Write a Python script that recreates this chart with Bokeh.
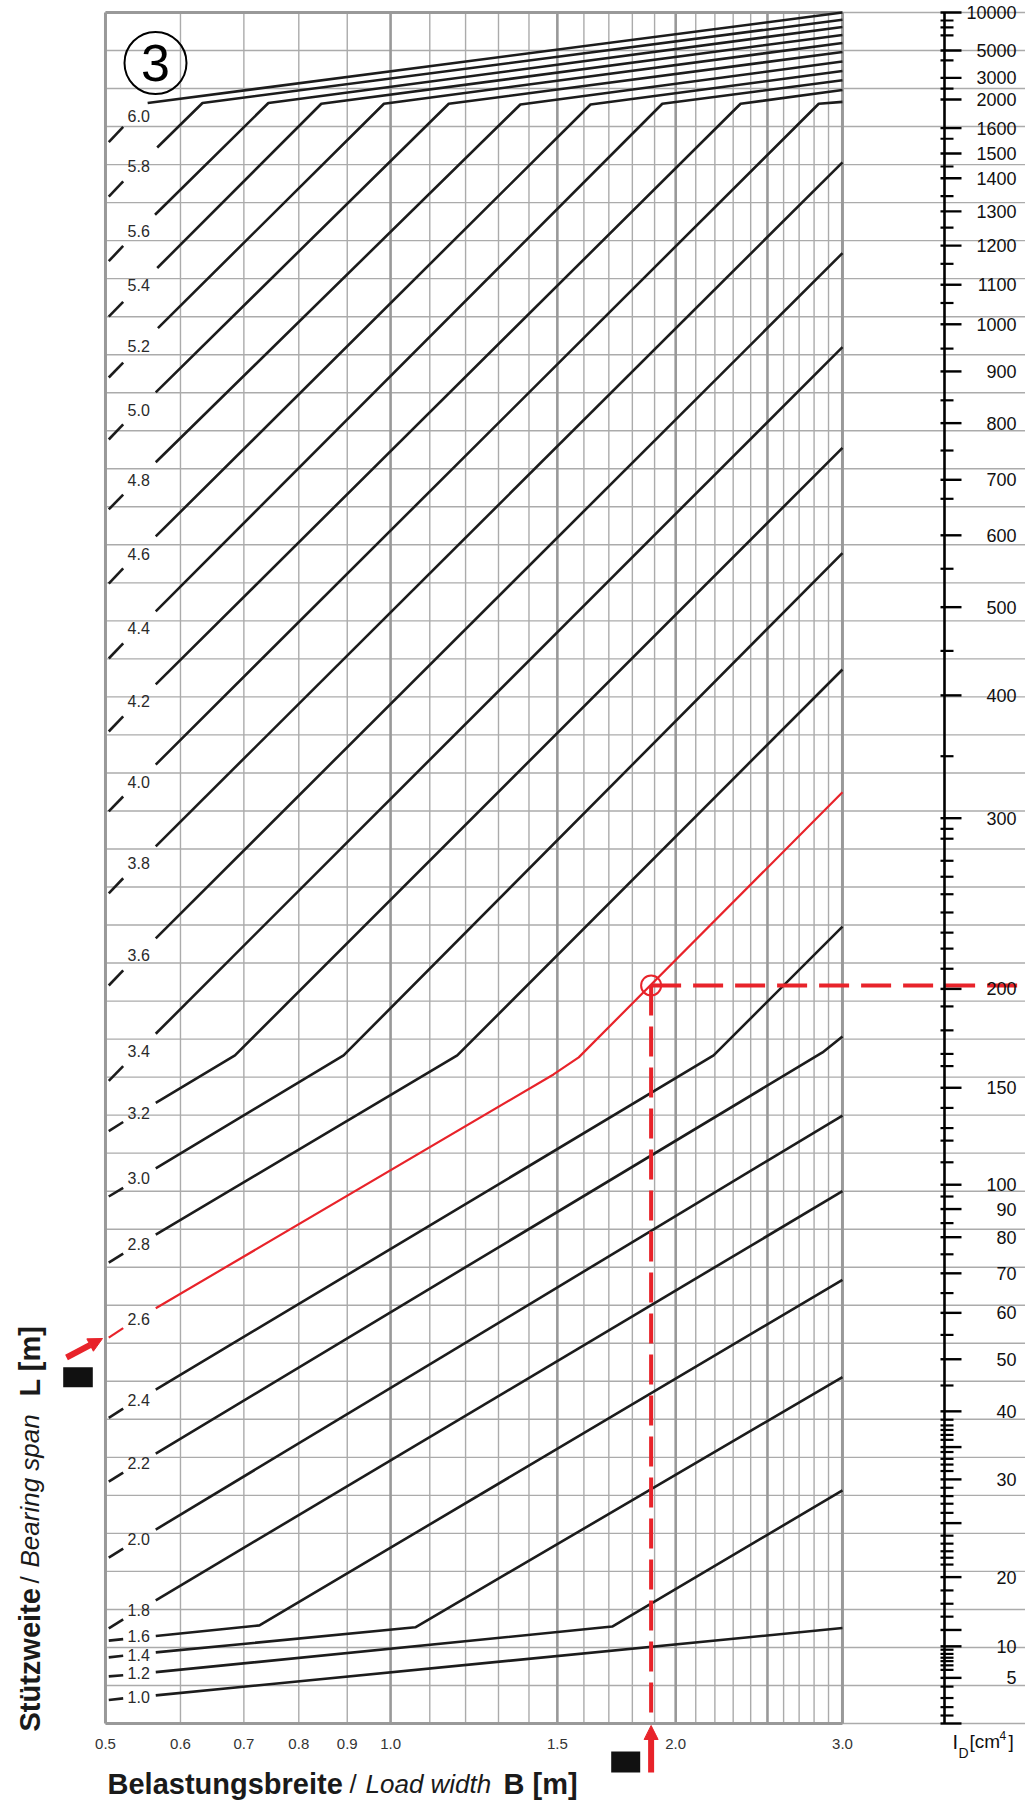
import numpy as np
from bokeh.plotting import figure
from bokeh.models import Range1d, Arrow, NormalHead, LinearScale
from bokeh.core.properties import value
from bokeh.embed import file_html
from bokeh.resources import INLINE

# ---------------------------------------------------------------- data
# Stützweite / bearing span L [m] of every curve (labels along the left edge)
L_VALUES = [6.0, 5.8, 5.6, 5.4, 5.2, 5.0, 4.8, 4.6, 4.4, 4.2, 4.0, 3.8, 3.6,
            3.4, 3.2, 3.0, 2.8, 2.6, 2.4, 2.2, 2.0, 1.8, 1.6, 1.4, 1.2, 1.0]
HIGHLIGHT_L = 2.6

# Curve vertices: load width B [m] and nomogram row (0 = bottom ... 45 = top)
CURVE_B = [
    [0.554, 3.0],                 # 6.0
    [0.567, 0.633, 3.0],          # 5.8
    [0.564, 0.743, 3.0],          # 5.6
    [0.567, 0.845, 3.0],          # 5.4
    [0.568, 0.984, 3.0],          # 5.2
    [0.565, 1.152, 3.0],          # 5.0
    [0.565, 1.371, 3.0],          # 4.8
    [0.565, 1.626, 3.0],          # 4.6
    [0.565, 1.936, 3.0],          # 4.4
    [0.565, 2.342, 3.0],          # 4.2
    [0.565, 2.832, 3.0],          # 4.0
    [0.565, 3.0],                 # 3.8
    [0.565, 3.0],                 # 3.6
    [0.565, 3.0],                 # 3.4
    [0.565, 0.685, 3.0],          # 3.2
    [0.565, 0.892, 3.0],          # 3.0
    [0.565, 1.176, 3.0],          # 2.8
    [0.565, 1.486, 1.580, 3.0],   # 2.6
    [0.565, 2.193, 3.0],          # 2.4
    [0.565, 2.858, 3.0],          # 2.2
    [0.565, 3.0],                 # 2.0
    [0.565, 3.0],                 # 1.8
    [0.565, 0.727, 3.0],          # 1.6
    [0.565, 1.062, 3.0],          # 1.4
    [0.565, 1.714, 3.0],          # 1.2
    [0.565, 3.0],                 # 1.0
]
CURVE_ROW = [
    [42.62, 45.00],
    [41.45, 42.62, 44.81],
    [39.68, 42.62, 44.62],
    [38.28, 42.60, 44.41],
    [36.70, 42.60, 44.20],
    [35.01, 42.60, 43.96],
    [33.17, 42.58, 43.71],
    [31.22, 42.58, 43.46],
    [29.25, 42.60, 43.22],
    [27.33, 42.60, 42.96],
    [25.22, 42.60, 42.65],
    [23.07, 41.06],
    [20.65, 38.67],
    [18.14, 36.20],
    [16.32, 17.57, 33.55],
    [14.60, 17.57, 30.78],
    [12.86, 17.57, 27.72],
    [10.92, 17.07, 17.52, 24.49],
    [8.78, 17.57, 20.96],
    [7.10, 17.65, 18.07],
    [5.10, 15.99],
    [3.24, 14.00],
    [2.30, 2.58, 11.67],
    [1.87, 2.53, 9.11],
    [1.35, 2.55, 6.13],
    [0.74, 2.51],
]
# short lead-in piece of each curve at the left border (before its label)
LEAD_B = [0.504, 0.522]
LEAD_ROW = [
    [41.59, 41.99], [40.16, 40.56], [38.46, 38.86], [37.00, 37.39],
    [35.40, 35.79], [33.77, 34.17], [31.93, 32.32], [29.98, 30.38],
    [28.01, 28.41], [26.09, 26.49], [23.99, 24.38], [21.83, 22.23],
    [19.41, 19.81], [16.90, 17.29], [15.58, 15.82], [13.86, 14.09],
    [12.12, 12.36], [10.15, 10.40], [8.04, 8.28], [6.36, 6.60],
    [4.36, 4.60], [2.50, 2.74], [2.18, 2.22], [1.74, 1.78],
    [1.24, 1.27], [0.62, 0.66],
]
LABEL_B = 0.542
LABEL_ROW = [42.29, 40.97, 39.26, 37.84, 36.23, 34.55, 32.71, 30.77, 28.80,
             26.88, 24.77, 22.62, 20.20, 17.70, 16.06, 14.34, 12.61, 10.63,
             8.50, 6.84, 4.85, 2.99, 2.30, 1.81, 1.33, 0.71]

# Belastungsbreite / load width B grid and tick labels
B_MINOR = [0.6, 0.7, 0.8, 0.9, 1.1, 1.2, 1.3, 1.4, 1.6, 1.7, 1.8, 1.9,
           2.1, 2.2, 2.3, 2.4, 2.6, 2.7, 2.8, 2.9]
B_MAJOR = [1.0, 1.5, 2.0, 2.5]
B_FRAME = [0.5, 3.0]
B_TICKS = [0.5, 0.6, 0.7, 0.8, 0.9, 1.0, 1.5, 2.0, 3.0]
ROWS = list(range(46))

# I_D [cm^4] scale (right): labels and the nomogram rows where they sit
ID_LABELS = ["10000", "5000", "3000", "2000", "1600", "1500", "1400", "1300",
             "1200", "1100", "1000", "900", "800", "700", "600", "500", "400",
             "300", "200", "150", "100", "90", "80", "70", "60", "50", "40",
             "30", "20", "10", "5"]
ID_LABEL_ROWS = [45.00, 44.00, 43.28, 42.71, 41.96, 41.29, 40.64, 39.77, 38.87,
                 37.84, 36.80, 35.56, 34.20, 32.71, 31.25, 29.36, 27.04, 23.81,
                 19.32, 16.72, 14.17, 13.53, 12.79, 11.84, 10.80, 9.58, 8.21,
                 6.42, 3.85, 2.03, 1.20]
ID_MAJOR_EXTRA_ROWS = [7.27, 5.27, 2.46, 0.0]
ID_MINOR_ROWS = [44.79, 44.61, 44.40, 43.74, 43.00, 41.68, 40.95, 40.17, 39.34,
                 38.39, 37.36, 36.16, 34.80, 33.48, 32.21, 30.37, 28.21, 25.44,
                 23.53, 23.27, 22.69, 22.27, 21.81, 21.33, 20.80, 20.38, 19.85,
                 18.86, 18.23, 17.61, 17.29, 16.19, 15.66, 15.33, 14.76, 13.86,
                 13.16, 12.34, 11.32, 10.22, 8.89, 7.99, 7.84, 7.72, 7.59, 7.46,
                 7.14, 6.96, 6.81, 6.64, 6.20, 5.98, 5.78, 5.54, 4.94, 4.73,
                 4.53, 4.36, 4.18, 3.50, 3.15, 2.81, 1.94, 1.83, 1.73, 1.64,
                 1.53, 1.41, 0.97, 0.67, 0.43, 0.21]

# worked example: B = 1.88 m read on curve L = 2.6 m -> I_D = 200 cm^4
EXAMPLE_B = 1.884
EXAMPLE_ROW = 19.41

# ---------------------------------------------------------------- styles
FONT = value("Liberation Sans")
RED = "#e8232a"
INK = "#1c1c1c"
GRID = "#ababab"
GRID_DARK = "#999999"

W, H = 1025, 1806
p = figure(width=W, height=H, x_axis_type="log",
           x_range=Range1d(0.38737, 4.6815), y_range=Range1d(-2.1830, 45.3156),
           x_axis_location=None, y_axis_location=None, title=None,
           min_border=0, toolbar_location=None, output_backend="svg",
           background_fill_color="white", border_fill_color="white",
           outline_line_color=None)
p.grid.visible = False
# page-pixel ranges (linear) for the decoration around the nomogram
p.extra_x_ranges = {"px": Range1d(0, W)}
p.extra_x_scales = {"px": LinearScale()}
p.extra_y_ranges = {"py": Range1d(H, 0)}
p.extra_y_scales = {"py": LinearScale()}

# ---------------------------------------------------------------- grid
p.ray(x=0.5, y=ROWS, length=0, angle=0, line_color=GRID, line_width=1.4)
p.segment(x0=B_MINOR, y0=0, x1=B_MINOR, y1=45, line_color=GRID, line_width=1.4)
p.segment(x0=B_MAJOR, y0=0, x1=B_MAJOR, y1=45, line_color=GRID_DARK, line_width=2.6)
p.segment(x0=B_FRAME, y0=0, x1=B_FRAME, y1=45, line_color=GRID_DARK, line_width=3)
p.segment(x0=0.5, y0=[0, 45], x1=3.0, y1=[0, 45], line_color=GRID_DARK, line_width=3)

# ---------------------------------------------------------------- curves
hi = L_VALUES.index(HIGHLIGHT_L)
black = [i for i in range(len(L_VALUES)) if i != hi]
p.multi_line(xs=[CURVE_B[i] for i in black], ys=[CURVE_ROW[i] for i in black],
             line_color=INK, line_width=2.6, line_join="round")
p.multi_line(xs=[LEAD_B for i in black], ys=[LEAD_ROW[i] for i in black],
             line_color=INK, line_width=2.6)
p.line(CURVE_B[hi], CURVE_ROW[hi], line_color=RED, line_width=2.2, line_join="round")
p.line(LEAD_B, LEAD_ROW[hi], line_color=RED, line_width=2.2)

p.text(x=LABEL_B, y=LABEL_ROW, text=[f"{v:.1f}" for v in L_VALUES],
       text_font=FONT, text_font_size="16px", text_color="#2a2a2a",
       text_align="center", text_baseline="middle")

# ---------------------------------------------------------------- example reading
p.line([EXAMPLE_B, EXAMPLE_B], [EXAMPLE_ROW, 0], line_color=RED, line_width=4,
       line_dash="30 11")
p.ray(x=EXAMPLE_B, y=EXAMPLE_ROW, length=0, angle=0, line_color=RED,
      line_width=4, line_dash="30 12")
p.scatter(x=[EXAMPLE_B], y=[EXAMPLE_ROW], marker="circle", size=20,
          fill_color=None, line_color=RED, line_width=2)

# ---------------------------------------------------------------- I_D scale (right)
p.segment(x0=944, y0=0, x1=944, y1=45, x_range_name="px", line_color="black",
          line_width=2.6)
p.segment(x0=940, y0=ID_LABEL_ROWS + ID_MAJOR_EXTRA_ROWS, x1=961,
          y1=ID_LABEL_ROWS + ID_MAJOR_EXTRA_ROWS, x_range_name="px",
          line_color="black", line_width=2.4)
p.segment(x0=940, y0=ID_MINOR_ROWS, x1=953, y1=ID_MINOR_ROWS, x_range_name="px",
          line_color="black", line_width=2.2)
p.text(x=1016, y=ID_LABEL_ROWS, text=ID_LABELS, x_range_name="px",
       text_font=FONT, text_font_size="18px", text_color="#111111",
       text_align="right", text_baseline="middle")

# I_D [cm4] caption
cap = dict(x_range_name="px", y_range_name="py", text_font=FONT,
           text_color="#111111", text_baseline="middle", text_align="left")
p.text(x=[952], y=[1741], text=["I"], text_font_size="20px", **cap)
p.text(x=[958], y=[1752], text=["D"], text_font_size="14px", **cap)
p.text(x=[969], y=[1741], text=["[cm"], text_font_size="19px", **cap)
p.text(x=[999], y=[1735], text=["4"], text_font_size="12px", **cap)
p.text(x=[1008], y=[1741], text=["]"], text_font_size="19px", **cap)

# ---------------------------------------------------------------- B tick labels
p.text(x=B_TICKS, y=1743, text=[f"{b:.1f}" for b in B_TICKS], y_range_name="py",
       text_font=FONT, text_font_size="15px", text_color="#333333",
       text_align="center", text_baseline="middle")

# ---------------------------------------------------------------- titles
ttl = dict(x_range_name="px", y_range_name="py", text_font=FONT,
           text_color="#1a1a1a", text_baseline="middle", text_align="left")
p.text(x=[107], y=[1783], text=["Belastungsbreite"], text_font_style="bold",
       text_font_size="29px", **ttl)
p.text(x=[349], y=[1783], text=["/"], text_font_style="normal",
       text_font_size="26px", **ttl)
p.text(x=[365], y=[1783], text=["Load width"], text_font_style="italic",
       text_font_size="26px", **ttl)
p.text(x=[503], y=[1783], text=["B [m]"], text_font_style="bold",
       text_font_size="29px", **ttl)

ttl_v = dict(ttl, angle=np.pi / 2)
p.text(x=[29], y=[1731], text=["Stützweite"], text_font_style="bold",
       text_font_size="29px", **ttl_v)
p.text(x=[29], y=[1583], text=["/"], text_font_style="normal",
       text_font_size="26px", **ttl_v)
p.text(x=[29], y=[1567], text=["Bearing span"], text_font_style="italic",
       text_font_size="26px", **ttl_v)
p.text(x=[29], y=[1396], text=["L [m]"], text_font_style="bold",
       text_font_size="29px", **ttl_v)

# ---------------------------------------------------------------- marks: circled 3, arrows, blocks
p.scatter(x=[155], y=[62.5], marker="circle", size=62, fill_color=None,
          line_color="black", line_width=2, x_range_name="px", y_range_name="py")
p.text(x=[155], y=[62], text=["3"], x_range_name="px", y_range_name="py",
       text_font=FONT, text_font_size="52px", text_color="black",
       text_align="center", text_baseline="middle")

p.quad(left=[62.7, 610.7], right=[92.3, 639.7], top=[1366.7, 1751],
       bottom=[1386.7, 1772], x_range_name="px", y_range_name="py",
       fill_color="#111111", line_color=None)

p.add_layout(Arrow(end=NormalHead(size=14, fill_color=RED, line_color=RED, line_width=1),
                   x_start=EXAMPLE_B, y_start=1772, x_end=EXAMPLE_B, y_end=1725,
                   y_range_name="py", line_color=RED, line_width=6))
p.add_layout(Arrow(end=NormalHead(size=14, fill_color=RED, line_color=RED, line_width=1),
                   x_start=66, y_start=1357, x_end=102, y_end=1338,
                   x_range_name="px", y_range_name="py", line_color=RED, line_width=6))
# white hatching on the arrow tails
p.segment(x0=[647, 647, 647], y0=[1758, 1764, 1770], x1=[655, 655, 655],
          y1=[1754, 1760, 1766], x_range_name="px", y_range_name="py",
          line_color="white", line_width=1.3)
p.segment(x0=[68, 72, 76], y0=[1352, 1350, 1348], x1=[72, 76, 80],
          y1=[1360, 1358, 1356], x_range_name="px", y_range_name="py",
          line_color="white", line_width=1.3)

open("out.html", "w").write(file_html(p, INLINE))
